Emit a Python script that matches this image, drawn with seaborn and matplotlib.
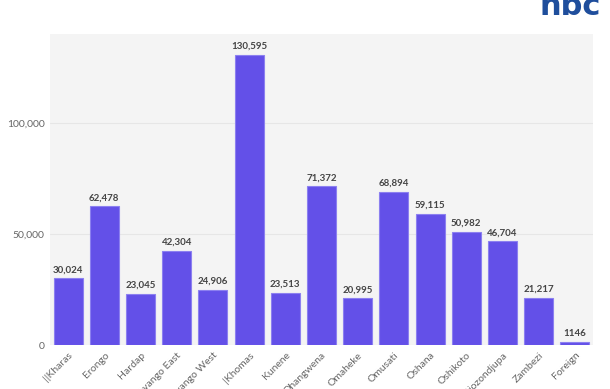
import pandas as pd
import seaborn as sns
import matplotlib.pyplot as plt
from matplotlib.ticker import FuncFormatter

regions = ['||Kharas', 'Erongo', 'Hardap', 'Kavango East', 'Kavango West', '|Khomas',
           'Kunene', 'Ohangwena', 'Omaheke', 'Omusati', 'Oshana', 'Oshikoto',
           'Otjozondjupa', 'Zambezi', 'Foreign']
counts = [30024, 62478, 23045, 42304, 24906, 130595, 23513, 71372, 20995,
          68894, 59115, 50982, 46704, 21217, 1146]
labels = ['30,024', '62,478', '23,045', '42,304', '24,906', '130,595', '23,513',
          '71,372', '20,995', '68,894', '59,115', '50,982', '46,704', '21,217', '1146']

df = pd.DataFrame({'region': regions, 'count': counts})

sns.set_style('whitegrid')
plt.rcParams['font.family'] = ['Lato', 'DejaVu Sans']

fig = plt.figure(figsize=(6.1, 3.89), dpi=100)
ax = fig.add_axes([0.082, 0.113, 0.89, 0.8])
ax.set_facecolor('#f4f4f4')

sns.barplot(data=df, x='region', y='count', color='#6350e8', width=0.8,
            edgecolor='#8c80f0', linewidth=0.8, saturation=1, ax=ax)

for i, (v, t) in enumerate(zip(counts, labels)):
    ax.text(i, v + 1800, t, ha='center', va='bottom', fontsize=7,
            fontweight='bold', color='#444444')

ax.set_ylim(0, 140000)
ax.set_xlim(-0.5, len(regions) - 0.5)
ax.set_yticks([0, 50000, 100000])
ax.yaxis.set_major_formatter(FuncFormatter(lambda v, p: f'{int(v):,}'))
ax.grid(axis='y', color='#e6e6e6', linewidth=0.8)
ax.grid(axis='x', visible=False)
for s in ax.spines.values():
    s.set_visible(False)
ax.set_xlabel('')
ax.set_ylabel('')
ax.tick_params(axis='both', labelsize=7.5, colors='#666666', length=0, pad=4)
plt.setp(ax.get_xticklabels(), rotation=45, ha='right', rotation_mode='anchor')

# logo, partly cut off at the top edge
fig.text(0.985, 1.02, 'nbc', ha='right', va='top', fontsize=22, fontweight='bold',
         color='#1f4e9c', family='DejaVu Sans')

fig.savefig('out.png', dpi=100)
